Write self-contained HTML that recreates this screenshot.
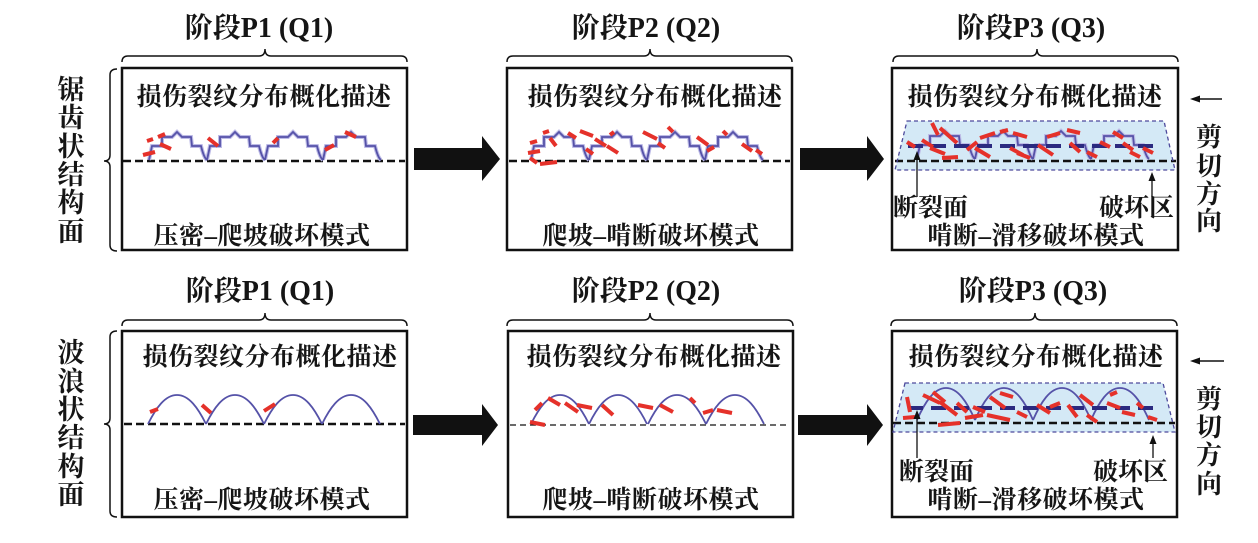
<!DOCTYPE html>
<html><head><meta charset="utf-8">
<style>
html,body{margin:0;padding:0;background:#fff;}
svg{display:block}
text{font-family:"Liberation Serif","Noto Serif CJK SC",serif;font-weight:bold;fill:#151515}
</style></head>
<body>
<svg width="1258" height="543" viewBox="0 0 1258 543" xmlns="http://www.w3.org/2000/svg">
<defs>
<path id="saw" d="M0,0 L3,-14 L13,-14 L13,-23 L23,-23 L28,-28 L33,-23 L42,-23 L43,-14 L52,-14 Q55,-2 58,0" fill="none"/>
<path id="arch" d="M0,0 C8,-16 17,-29 29,-29 C41,-29 50,-16 58,0" fill="none"/>
<path id="arch3" d="M0,0 C8,-18 17,-32 29,-32 C41,-32 50,-18 58,0" fill="none"/>
</defs>

<!-- ===== Titles ===== -->
<text x="259" y="37" font-size="28" text-anchor="middle">阶段P1 (Q1)</text>
<text x="646" y="37" font-size="28" text-anchor="middle">阶段P2 (Q2)</text>
<text x="1031" y="37" font-size="28" text-anchor="middle">阶段P3 (Q3)</text>
<text x="260" y="300" font-size="28" text-anchor="middle">阶段P1 (Q1)</text>
<text x="646" y="300" font-size="28" text-anchor="middle">阶段P2 (Q2)</text>
<text x="1033" y="300" font-size="28" text-anchor="middle">阶段P3 (Q3)</text>

<!-- ===== Braces ===== -->
<g fill="none" stroke="#111" stroke-width="1.5">
<path d="M122,62 Q122,56 128,56 L259,56 Q265,56 265,49 Q265,56 271,56 L401,56 Q407,56 407,62"/>
<path d="M507,62 Q507,56 513,56 L644,56 Q650,56 650,49 Q650,56 656,56 L786,56 Q792,56 792,62"/>
<path d="M893,62 Q893,56 899,56 L1031,56 Q1037,56 1037,49 Q1037,56 1043,56 L1172,56 Q1178,56 1178,62"/>
<path d="M122,326 Q122,320 128,320 L259,320 Q265,320 265,313 Q265,320 271,320 L401,320 Q407,320 407,326"/>
<path d="M507,326 Q507,320 513,320 L644,320 Q650,320 650,313 Q650,320 656,320 L787,320 Q793,320 793,326"/>
<path d="M891,326 Q891,320 897,320 L1029,320 Q1035,320 1035,313 Q1035,320 1041,320 L1171,320 Q1177,320 1177,326"/>
<path d="M117,69 Q110,69 110,75 L110,155 Q110,161 104,161 Q110,161 110,167 L110,245 Q110,251 117,251"/>
<path d="M117,331 Q110,331 110,337 L110,418 Q110,424 104,424 Q110,424 110,430 L110,511 Q110,517 117,517"/>
</g>

<!-- ===== Left vertical labels ===== -->
<g font-size="27" text-anchor="middle">
<text x="71" y="99">锯</text><text x="71" y="127">齿</text><text x="71" y="156">状</text>
<text x="71" y="184">结</text><text x="71" y="212">构</text><text x="71" y="241">面</text>
<text x="71" y="362">波</text><text x="71" y="391">浪</text><text x="71" y="419">状</text>
<text x="71" y="447">结</text><text x="71" y="476">构</text><text x="71" y="504">面</text>
</g>

<!-- ===== Right shear direction ===== -->
<g font-size="26" text-anchor="middle">
<text x="1209" y="146">剪</text><text x="1209" y="175">切</text><text x="1209" y="203">方</text><text x="1209" y="230">向</text>
<text x="1209" y="408">剪</text><text x="1209" y="436">切</text><text x="1209" y="464">方</text><text x="1209" y="493">向</text>
</g>
<g stroke="#111" stroke-width="1.5">
<line x1="1198" y1="99" x2="1222" y2="99"/>
<line x1="1198" y1="361" x2="1224" y2="361"/>
</g>
<g fill="#111">
<polygon points="1190,99 1200,95.5 1200,102.5"/>
<polygon points="1190,361 1200,357.5 1200,364.5"/>
</g>

<!-- ===== Big arrows ===== -->
<g fill="#111">
<polygon points="414,148 482,148 482,136 500,159 482,181 482,170 414,170"/>
<polygon points="800,148 867,148 867,136 884,159 867,181 867,170 800,170"/>
<polygon points="413,415 482,415 482,404 498,425 482,446 482,435 413,435"/>
<polygon points="798,415 867,415 867,404 883,425 867,446 867,435 798,435"/>
</g>

<!-- ===== Boxes ===== -->
<g fill="none" stroke="#111" stroke-width="2.5">
<rect x="122" y="68" width="285" height="182"/>
<rect x="507" y="68" width="285" height="182"/>
<rect x="892" y="68" width="286" height="182"/>
<rect x="122" y="331" width="285" height="186"/>
<rect x="508" y="331" width="285" height="186"/>
<rect x="892" y="331" width="285" height="186"/>
</g>

<!-- inner titles -->
<g font-size="25" text-anchor="middle" letter-spacing="0.5">
<text x="264" y="105">损伤裂纹分布概化描述</text>
<text x="655" y="105">损伤裂纹分布概化描述</text>
<text x="1035" y="105">损伤裂纹分布概化描述</text>
<text x="270" y="365">损伤裂纹分布概化描述</text>
<text x="654" y="365">损伤裂纹分布概化描述</text>
<text x="1036" y="365">损伤裂纹分布概化描述</text>
<text x="262" y="244">压密–爬坡破坏模式</text>
<text x="651" y="244">爬坡–啃断破坏模式</text>
<text x="1036" y="244">啃断–滑移破坏模式</text>
<text x="262" y="508">压密–爬坡破坏模式</text>
<text x="651" y="508">爬坡–啃断破坏模式</text>
<text x="1036" y="508">啃断–滑移破坏模式</text>
</g>

<!-- ===== P3 trapezoids ===== -->
<polygon points="907,121 1164,121 1175,170 895,170" fill="#d4e9f6"/>
<polygon points="905,383 1163,383 1175,432 893,432" fill="#d4e9f6"/>

<!-- ===== Dashed baselines ===== -->
<g stroke="#111" stroke-width="2.5" stroke-dasharray="8 4">
<line x1="123" y1="161" x2="405" y2="161"/>
<line x1="509" y1="161" x2="790" y2="161"/>
<line x1="895" y1="161" x2="1176" y2="161"/>
<line x1="124" y1="424" x2="405" y2="424"/>
<line x1="893" y1="423" x2="1175" y2="423"/>
</g>
<line x1="510" y1="425" x2="790" y2="425" stroke="#111" stroke-width="1.2" stroke-dasharray="6 4"/>

<!-- ===== Profiles: halo ===== -->
<g stroke="#bdbbe6" stroke-width="4" fill="none">
<use href="#saw" x="149" y="160"/><use href="#saw" x="207" y="160"/><use href="#saw" x="265" y="160"/><use href="#saw" x="323" y="160"/>
<use href="#saw" x="531" y="160"/><use href="#saw" x="589" y="160"/><use href="#saw" x="647" y="160"/><use href="#saw" x="705" y="160"/>
<use href="#saw" x="917" y="159"/><use href="#saw" x="975" y="159"/><use href="#saw" x="1033" y="159"/><use href="#saw" x="1091" y="159"/>
</g>
<!-- ===== Profiles ===== -->
<g stroke="#5552a8" stroke-width="1.8" fill="none">
<use href="#saw" x="149" y="160"/><use href="#saw" x="207" y="160"/><use href="#saw" x="265" y="160"/><use href="#saw" x="323" y="160"/>
<use href="#saw" x="531" y="160"/><use href="#saw" x="589" y="160"/><use href="#saw" x="647" y="160"/><use href="#saw" x="705" y="160"/>
<use href="#saw" x="917" y="159"/><use href="#saw" x="975" y="159"/><use href="#saw" x="1033" y="159"/><use href="#saw" x="1091" y="159"/>
<use href="#arch" x="148" y="424"/><use href="#arch" x="206" y="424"/><use href="#arch" x="264" y="424"/><use href="#arch" x="322" y="424"/>
<use href="#arch" x="531" y="424"/><use href="#arch" x="589" y="424"/><use href="#arch" x="648" y="424"/><use href="#arch" x="706" y="424"/>
<use href="#arch3" x="917" y="420"/><use href="#arch3" x="975" y="420"/><use href="#arch3" x="1033" y="420"/><use href="#arch3" x="1091" y="420"/>
</g>

<!-- navy fracture plane dashes -->
<g stroke="#2b2a80" stroke-width="4" stroke-dasharray="15 8">
<line x1="908" y1="146" x2="1160" y2="146"/>
<line x1="908" y1="408" x2="1156" y2="408"/>
</g>

<!-- ===== Red cracks ===== -->
<g stroke="#e5312a" stroke-width="4" stroke-linecap="butt">
<!-- top box1 -->
<line x1="143" y1="155" x2="155" y2="152"/><line x1="147" y1="141" x2="153" y2="139"/>
<line x1="158" y1="137" x2="165" y2="134"/><line x1="160" y1="144" x2="171" y2="149"/>
<line x1="208" y1="138" x2="218" y2="146"/><line x1="273" y1="143" x2="278" y2="138"/>
<line x1="325" y1="150" x2="334" y2="145"/><line x1="345" y1="132" x2="356" y2="137"/>
<!-- top box2 -->
<line x1="530" y1="143" x2="537" y2="141"/><line x1="528" y1="153" x2="540" y2="151"/>
<line x1="530" y1="158" x2="537" y2="163"/><line x1="540" y1="164" x2="557" y2="162"/>
<line x1="543" y1="133" x2="549" y2="131"/><line x1="550" y1="138" x2="556" y2="146"/>
<line x1="568" y1="133" x2="576" y2="138"/><line x1="580" y1="131" x2="593" y2="136"/>
<line x1="586" y1="149" x2="593" y2="154"/><line x1="595" y1="139" x2="606" y2="146"/>
<line x1="607" y1="146" x2="618" y2="153"/><line x1="610" y1="135" x2="614" y2="132"/>
<line x1="643" y1="132" x2="657" y2="139"/><line x1="658" y1="143" x2="665" y2="148"/>
<line x1="668" y1="127" x2="673" y2="132"/><line x1="697" y1="137" x2="708" y2="145"/>
<line x1="707" y1="151" x2="714" y2="147"/><line x1="723" y1="131" x2="727" y2="135"/>
<line x1="742" y1="144" x2="752" y2="151"/><line x1="756" y1="150" x2="762" y2="154"/>
<!-- top box3 -->
<line x1="907" y1="142" x2="915" y2="147"/><line x1="932" y1="123" x2="938" y2="135"/>
<line x1="940" y1="128" x2="957" y2="143"/><line x1="922" y1="140" x2="933" y2="147"/>
<line x1="930" y1="148" x2="945" y2="154"/><line x1="942" y1="158" x2="958" y2="157"/>
<line x1="967" y1="150" x2="977" y2="142"/><line x1="975" y1="148" x2="990" y2="157"/>
<line x1="980" y1="138" x2="995" y2="133"/><line x1="1000" y1="132" x2="1008" y2="130"/>
<line x1="1013" y1="133" x2="1027" y2="137"/><line x1="1010" y1="148" x2="1023" y2="155"/>
<line x1="1017" y1="153" x2="1030" y2="158"/><line x1="1038" y1="145" x2="1053" y2="155"/>
<line x1="1047" y1="137" x2="1060" y2="133"/><line x1="1067" y1="130" x2="1080" y2="133"/>
<line x1="1070" y1="143" x2="1080" y2="152"/><line x1="1087" y1="152" x2="1097" y2="157"/>
<line x1="1100" y1="142" x2="1110" y2="147"/><line x1="1113" y1="132" x2="1123" y2="138"/>
<line x1="1123" y1="143" x2="1133" y2="150"/><line x1="1130" y1="152" x2="1140" y2="157"/>
<line x1="1143" y1="148" x2="1153" y2="153"/>
<!-- bottom box1 -->
<line x1="150" y1="412" x2="158" y2="409"/><line x1="202" y1="405" x2="211" y2="413"/>
<line x1="264" y1="411" x2="275" y2="404"/>
<!-- bottom box2 -->
<line x1="535" y1="410" x2="542" y2="403"/><line x1="530" y1="422" x2="545" y2="425"/>
<line x1="548" y1="398" x2="560" y2="405"/><line x1="565" y1="403" x2="578" y2="412"/>
<line x1="577" y1="405" x2="592" y2="408"/><line x1="602" y1="405" x2="613" y2="415"/>
<line x1="638" y1="405" x2="653" y2="408"/><line x1="660" y1="405" x2="673" y2="412"/>
<line x1="690" y1="398" x2="695" y2="403"/><line x1="703" y1="413" x2="713" y2="410"/>
<line x1="717" y1="410" x2="732" y2="413"/>
<!-- bottom box3 -->
<line x1="907" y1="397" x2="910" y2="412"/><line x1="903" y1="418" x2="915" y2="417"/>
<line x1="923" y1="395" x2="940" y2="403"/><line x1="933" y1="392" x2="945" y2="402"/>
<line x1="938" y1="425" x2="960" y2="423"/><line x1="940" y1="402" x2="957" y2="415"/>
<line x1="957" y1="403" x2="967" y2="412"/><line x1="965" y1="418" x2="983" y2="415"/>
<line x1="973" y1="407" x2="985" y2="412"/><line x1="990" y1="397" x2="1005" y2="408"/>
<line x1="987" y1="415" x2="1010" y2="420"/><line x1="1000" y1="393" x2="1013" y2="397"/>
<line x1="1017" y1="412" x2="1027" y2="417"/><line x1="1037" y1="405" x2="1050" y2="413"/>
<line x1="1050" y1="407" x2="1060" y2="403"/><line x1="1068" y1="405" x2="1077" y2="417"/>
<line x1="1080" y1="395" x2="1093" y2="405"/><line x1="1087" y1="415" x2="1097" y2="422"/>
<line x1="1107" y1="403" x2="1120" y2="408"/><line x1="1110" y1="395" x2="1117" y2="392"/>
<line x1="1122" y1="412" x2="1135" y2="415"/><line x1="1137" y1="403" x2="1143" y2="408"/>
<line x1="1148" y1="417" x2="1157" y2="420"/>
</g>

<!-- trapezoid dashed borders -->
<g fill="none" stroke="#4d4a9c" stroke-width="1.3" stroke-dasharray="4 3">
<polygon points="907,121 1164,121 1175,170 895,170"/>
<polygon points="905,383 1163,383 1175,432 893,432"/>
</g>

<!-- label arrows -->
<g stroke="#111" stroke-width="1.3">
<line x1="917" y1="197" x2="917" y2="158"/>
<line x1="1152" y1="197" x2="1152" y2="179"/>
<line x1="917" y1="458" x2="917" y2="417"/>
<line x1="1153" y1="458" x2="1153" y2="442"/>
</g>
<g fill="#111">
<polygon points="917,151 913.5,160 920.5,160"/>
<polygon points="1152,172 1148.5,181 1155.5,181"/>
<polygon points="917,410 913.5,419 920.5,419"/>
<polygon points="1153,435 1149.5,444 1156.5,444"/>
</g>
<g font-size="25">
<text x="893" y="216">断裂面</text>
<text x="1099" y="216">破坏区</text>
<text x="899" y="480">断裂面</text>
<text x="1093" y="480">破坏区</text>
</g>
</svg>
</body></html>
